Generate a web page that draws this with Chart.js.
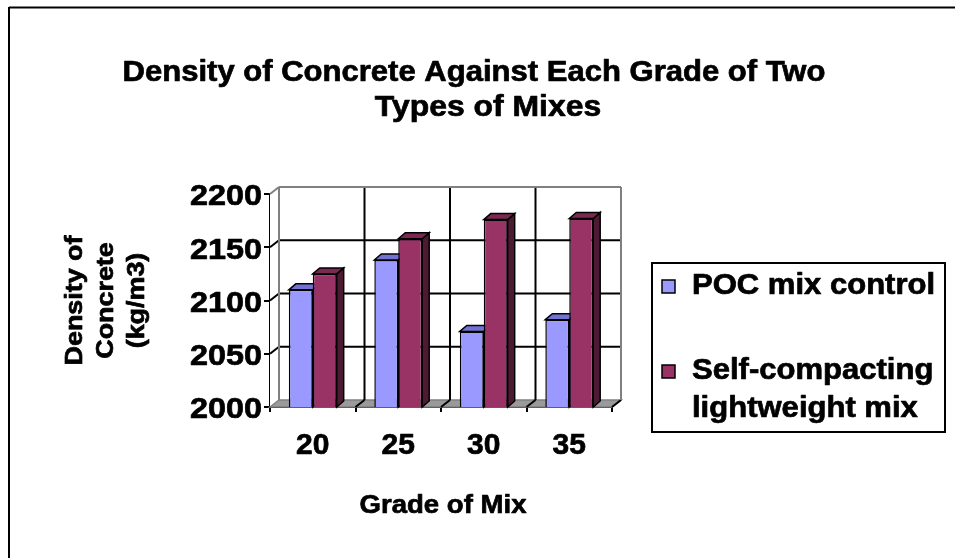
<!DOCTYPE html>
<html>
<head>
<meta charset="utf-8">
<title>Density of Concrete</title>
<script src="https://cdn.jsdelivr.net/npm/chart.js@4.4.1/dist/chart.umd.min.js"></script>
<style>
	body{margin:0;background:#fff;}
	#wrap{width:955px;height:558px;}
</style>
</head>
<body>
<div id="wrap"><canvas id="grafica" width="955" height="558"></canvas></div>
<script>
// data
var GRADES=['20','25','30','35'];
var POC_MIX=[2110,2138,2071,2082];
var SELF_COMPACTING=[2125,2158,2176,2177];
var SERIES_NAMES=['POC mix control','Self-compacting lightweight mix'];
var LEGEND_LINES=[['POC mix control'],['Self-compacting','lightweight mix']];
var Y_MIN=2000,Y_MAX=2200,Y_STEP=50;
var TITLE_LINES=['Density of Concrete Against Each Grade of Two','Types of Mixes'];
var X_TITLE='Grade of Mix';
var Y_TITLE=['Density of','Concrete','(kg/m3)'];

var FONT='"Liberation Sans", Arial, sans-serif';
var COLORES=[
	{front:'#9999FF',top:'#7272D4',side:'#5555AA'},
	{front:'#993366',top:'#7A2952',side:'#4D1A33'}
];
var WALL_DX=9,WALL_DY=-7;
var BAR_DX=7,BAR_DY=-6;

function texto(ctx,txt,x,y,size,sx,align,rot){
	ctx.save();
	ctx.translate(x,y);
	if(rot){ctx.rotate(rot);}
	ctx.scale(sx,1);
	ctx.font='bold '+size+'px '+FONT;
	ctx.fillStyle='#000';
	ctx.strokeStyle='#000';
	ctx.lineWidth=0.7;
	ctx.lineJoin='round';
	ctx.textAlign=align||'center';
	ctx.textBaseline='middle';
	ctx.fillText(txt,0,0);
	ctx.strokeText(txt,0,0);
	ctx.restore();
}

function poly(ctx,pts,fill,stroke,lw){
	ctx.beginPath();
	ctx.moveTo(pts[0][0],pts[0][1]);
	for(var i=1;i<pts.length;i++){ctx.lineTo(pts[i][0],pts[i][1]);}
	ctx.closePath();
	if(fill){ctx.fillStyle=fill;ctx.fill();}
	if(stroke){ctx.strokeStyle=stroke;ctx.lineWidth=lw||1;ctx.stroke();}
}

function linea(ctx,x1,y1,x2,y2,color,lw){
	ctx.beginPath();
	ctx.moveTo(x1,y1);
	ctx.lineTo(x2,y2);
	ctx.strokeStyle=color;
	ctx.lineWidth=lw;
	ctx.stroke();
}

// back wall, left wall, floor and the 3D tops/sides of the bars
var paredes={
	id:'paredes',
	beforeDatasetsDraw:function(chart){
		var ctx=chart.ctx,a=chart.chartArea,ys=chart.scales.y;
		var L=a.left,R=a.right,T=a.top,B=a.bottom;
		ctx.save();
		// left wall
		poly(ctx,[[L,T],[L+WALL_DX,T+WALL_DY],[L+WALL_DX,B+WALL_DY],[L,B]],'#fff',null);
		// floor
		poly(ctx,[[L,B],[L+WALL_DX,B+WALL_DY],[R+WALL_DX,B+WALL_DY],[R,B]],'#9a9a9a','#808080',1.5);
		// horizontal grid on the back wall
		for(var v=Y_MIN+Y_STEP;v<Y_MAX;v+=Y_STEP){
			var yy=ys.getPixelForValue(v);
			linea(ctx,L,yy,L+WALL_DX,yy+WALL_DY,'#000',2);
			linea(ctx,L+WALL_DX,yy+WALL_DY,R+WALL_DX,yy+WALL_DY,'#000',2);
		}
		// vertical grid between categories
		var w=(R-L)/GRADES.length;
		for(var k=1;k<GRADES.length;k++){
			var bx=L+k*w;
			linea(ctx,bx+WALL_DX,T+WALL_DY,bx+WALL_DX,B+WALL_DY,'#000',2);
		}
		for(var k2=1;k2<=GRADES.length;k2++){
			var bx2=L+k2*w;
			linea(ctx,bx2,B,bx2+WALL_DX,B+WALL_DY,'#000',2);
		}
		// wall edges
		linea(ctx,L+WALL_DX,T+WALL_DY,R+WALL_DX,T+WALL_DY,'#808080',2);
		linea(ctx,L+WALL_DX,T+WALL_DY,L+WALL_DX,B+WALL_DY,'#808080',2);
		linea(ctx,R+WALL_DX,T+WALL_DY,R+WALL_DX,B+WALL_DY,'#808080',2);
		linea(ctx,L,T,L+WALL_DX,T+WALL_DY,'#808080',2);
		// bar tops and sides, fronts are drawn by chart.js afterwards
		var b=ys.getPixelForValue(Y_MIN);
		chart.data.datasets.forEach(function(ds,i){
			var meta=chart.getDatasetMeta(i);
			meta.data.forEach(function(bar){
				var p=bar.getProps(['x','y','width']);
				var l=p.x-p.width/2,r=p.x+p.width/2,t=p.y;
				poly(ctx,[[r,t],[r+BAR_DX,t+BAR_DY],[r+BAR_DX,b+BAR_DY],[r,b]],COLORES[i].side,'#000',1.5);
				poly(ctx,[[l,t],[l+BAR_DX,t+BAR_DY],[r+BAR_DX,t+BAR_DY],[r,t]],COLORES[i].top,'#000',1.5);
			});
		});
		ctx.restore();
	},
	afterDraw:function(chart){
		var ctx=chart.ctx,a=chart.chartArea,ys=chart.scales.y,xs=chart.scales.x;
		ctx.save();
		// frame of the picture
		linea(ctx,9,7.5,955,7.5,'#000',2);
		linea(ctx,9,7,9,558,'#000',2);
		// title
		texto(ctx,TITLE_LINES[0],474,73,29,1.07,'center');
		texto(ctx,TITLE_LINES[1],488,108,29,1.1,'center');
		// y tick labels
		ys.ticks.forEach(function(t){
			texto(ctx,String(t.value),262,ys.getPixelForValue(t.value)+3,30,1.08,'right');
		});
		// x tick labels
		GRADES.forEach(function(g,i){
			texto(ctx,g,xs.getPixelForValue(i),446,30,1.0,'center');
		});
		// axis titles
		texto(ctx,X_TITLE,(a.left+a.right)/2+2,506,26,1.06,'center');
		var yc=(a.top+a.bottom)/2;
		var xPos=[75,106,137];
		Y_TITLE.forEach(function(s,i){
			texto(ctx,s,xPos[i],yc,24,1.12,'center',-Math.PI/2);
		});
		// legend
		ctx.lineWidth=2;
		ctx.strokeStyle='#000';
		ctx.strokeRect(652,263,293,169);
		var rows=[286,371];
		chart.data.datasets.forEach(function(ds,i){
			ctx.fillStyle=ds.backgroundColor;
			ctx.fillRect(662,rows[i]-6,13,13);
			ctx.lineWidth=1.5;
			ctx.strokeStyle='#000';
			ctx.strokeRect(662,rows[i]-6,13,13);
			LEGEND_LINES[i].forEach(function(s,j){
				texto(ctx,s,692,rows[i]+j*38,29,1.07,'left');
			});
		});
		ctx.restore();
	}
};

var config={
	type:'bar',
	data:{
		labels:GRADES,
		datasets:[
			{label:SERIES_NAMES[0],data:POC_MIX,backgroundColor:COLORES[0].front,borderColor:'#000',borderWidth:1.5,borderSkipped:false},
			{label:SERIES_NAMES[1],data:SELF_COMPACTING,backgroundColor:COLORES[1].front,borderColor:'#000',borderWidth:1.5,borderSkipped:false}
		]
	},
	options:{
		responsive:false,
		animation:false,
		events:[],
		layout:{padding:{left:0,right:343,top:194,bottom:0}},
		datasets:{bar:{categoryPercentage:0.56,barPercentage:1}},
		plugins:{legend:{display:false},title:{display:false},tooltip:{enabled:false}},
		scales:{
			x:{
				offset:true,
				grid:{offset:true,drawOnChartArea:false,drawTicks:true,tickLength:5,color:'#000',lineWidth:2},
				border:{display:true,color:'#000',width:2},
				ticks:{display:false},
				afterFit:function(s){s.height=151;}
			},
			y:{
				min:Y_MIN,max:Y_MAX,
				grid:{drawOnChartArea:false,drawTicks:true,tickLength:6,color:'#000',lineWidth:2},
				border:{display:true,color:'#000',width:2},
				ticks:{display:false,stepSize:Y_STEP},
				afterFit:function(s){s.width=270;}
			}
		}
	},
	plugins:[paredes]
};

new Chart(document.getElementById('grafica').getContext('2d'),config);
</script>
</body>
</html>
